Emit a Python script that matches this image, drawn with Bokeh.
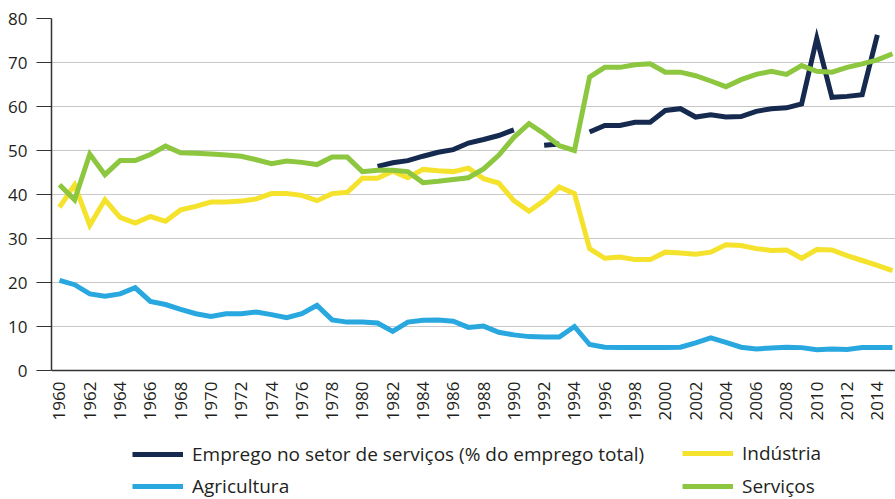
import math
from bokeh.plotting import figure
from bokeh.models import (Range1d, FixedTicker, Legend, LegendItem, ColumnDataSource,
                          Span)
from bokeh.core.properties import value
from bokeh.embed import file_html
from bokeh.resources import INLINE

nan = float("nan")

years = list(range(1960, 2016))

emprego = [nan] * 21 + [
    46.4, 47.2, 47.7, 48.7, 49.6, 50.2, 51.7, 52.5, 53.4, 54.7,   # 1981-1990
    nan, 51.2, 51.5, nan,                                          # 1991-1994
    54.2, 55.7, 55.7, 56.4, 56.4, 59.1, 59.5, 57.6, 58.1, 57.6,   # 1995-2004
    57.7, 58.9, 59.5, 59.7, 60.6, 75.5, 62.1, 62.3, 62.7, 76.3,   # 2005-2014
    nan,                                                           # 2015
]

industria = [
    37.1, 42.2, 33.0, 38.8, 34.8, 33.5, 35.0, 33.9, 36.5, 37.3,   # 1960-1969
    38.3, 38.3, 38.5, 39.0, 40.2, 40.2, 39.8, 38.6, 40.2, 40.5,   # 1970-1979
    43.7, 43.7, 45.3, 43.8, 45.7, 45.4, 45.2, 46.0, 43.6, 42.6,   # 1980-1989
    38.6, 36.2, 38.6, 41.7, 40.2, 27.7, 25.5, 25.8, 25.2, 25.2,   # 1990-1999
    26.9, 26.7, 26.4, 26.9, 28.6, 28.4, 27.7, 27.3, 27.4, 25.5,   # 2000-2009
    27.5, 27.4, 26.1, 25.0, 23.9, 22.7,                           # 2010-2015
]

agricultura = [
    20.5, 19.5, 17.4, 16.9, 17.4, 18.8, 15.7, 15.0, 13.9, 12.9,   # 1960-1969
    12.3, 12.9, 12.9, 13.3, 12.7, 12.0, 12.9, 14.8, 11.5, 11.0,   # 1970-1979
    11.0, 10.8, 8.9, 11.0, 11.4, 11.5, 11.2, 9.8, 10.1, 8.7,      # 1980-1989
    8.1, 7.7, 7.6, 7.6, 10.0, 5.9, 5.3, 5.2, 5.2, 5.2,            # 1990-1999
    5.2, 5.3, 6.3, 7.4, 6.4, 5.3, 4.9, 5.1, 5.3, 5.2,             # 2000-2009
    4.7, 4.9, 4.8, 5.2, 5.2, 5.2,                                 # 2010-2015
]

servicos = [
    42.2, 38.8, 49.2, 44.5, 47.7, 47.7, 49.1, 51.0, 49.5, 49.4,   # 1960-1969
    49.2, 49.0, 48.7, 47.9, 47.0, 47.6, 47.3, 46.8, 48.5, 48.5,   # 1970-1979
    45.2, 45.5, 45.5, 45.2, 42.7, 43.0, 43.4, 43.8, 45.8, 48.9,   # 1980-1989
    53.0, 56.1, 53.8, 51.1, 50.0, 66.7, 68.9, 68.9, 69.5, 69.7,   # 1990-1999
    67.8, 67.8, 67.0, 65.8, 64.5, 66.1, 67.3, 68.0, 67.3, 69.3,   # 2000-2009
    68.0, 67.8, 68.9, 69.7, 70.6, 72.0,                           # 2010-2015
]

x_ticks = list(range(1960, 2015, 2))
x_tick_labels = [str(y) for y in x_ticks]
y_ticks = [0, 10, 20, 30, 40, 50, 60, 70, 80]

labels = {
    "emprego": "Emprego no setor de serviços (% do emprego total)",
    "industria": "Indústria",
    "agricultura": "Agricultura",
    "servicos": "Serviços",
}
colors = {
    "emprego": "#152a4e",
    "industria": "#f5e22c",
    "agricultura": "#29a8e0",
    "servicos": "#8dc63f",
}

FONT = "Open Sans"
TXT = "#231f20"
AXIS = "#333333"

# y = 0 sits 129 px above the bottom of the canvas; the frame runs to the bottom
# so the legends can sit inside it.
p = figure(width=895, height=499, output_backend="svg", toolbar_location=None,
           x_range=Range1d(1959.472, 2015.198), y_range=Range1d(-29.318, 80),
           x_axis_location=None,
           min_border_left=51, min_border_right=0, min_border_top=18,
           min_border_bottom=0)
p.outline_line_color = None
p.background_fill_color = "white"
p.border_fill_color = "white"

src = ColumnDataSource(dict(year=years, emprego=emprego, industria=industria,
                            agricultura=agricultura, servicos=servicos))

renderers = {}
for key in ["emprego", "industria", "agricultura", "servicos"]:
    renderers[key] = p.line("year", key, source=src, line_color=colors[key],
                            line_width=5, line_join="miter")

# y axis
p.yaxis.ticker = FixedTicker(ticks=y_ticks)
p.yaxis.bounds = (0, 80)
p.yaxis.major_tick_out = 15
p.yaxis.major_tick_in = 0
p.yaxis.major_tick_line_color = AXIS
p.yaxis.minor_tick_line_color = None
p.yaxis.major_label_standoff = 9
p.yaxis.axis_line_color = AXIS
p.yaxis.axis_line_width = 1.5
p.yaxis.major_label_text_font = FONT
p.yaxis.major_label_text_font_size = "17px"
p.yaxis.major_label_text_color = TXT

p.xgrid.grid_line_color = None
p.ygrid.ticker = FixedTicker(ticks=y_ticks)
p.ygrid.grid_line_color = "#c8c8c8"
p.ygrid.grid_line_width = 1.2

# x axis line at y = 0 and its rotated year labels
p.add_layout(Span(location=0, dimension="width", line_color=AXIS, line_width=1.5))
tick_src = ColumnDataSource(dict(x=x_ticks, y=[0] * len(x_ticks), t=x_tick_labels))
p.text(x="x", y="y", text="t", source=tick_src, angle=math.pi / 2,
       text_align="right", text_baseline="middle", y_offset=11,
       text_font=value(FONT), text_font_size="17px", text_color=TXT)


def make_legend(keys, loc, spacing):
    lg = Legend(items=[LegendItem(label=labels[k], renderers=[renderers[k]]) for k in keys],
                location=loc, orientation="vertical")
    lg.glyph_width = 51
    lg.glyph_height = 20
    lg.label_height = 20
    lg.spacing = spacing
    lg.padding = 0
    lg.margin = 0
    lg.label_standoff = 9
    lg.label_text_font = FONT
    lg.label_text_font_size = "19px"
    lg.label_text_color = TXT
    lg.background_fill_alpha = 0
    lg.border_line_alpha = 0
    return lg


p.add_layout(make_legend(["emprego", "agricultura"], (81, 0), 6), "center")
p.add_layout(make_legend(["industria", "servicos"], (631, 0), 7), "center")

open("out.html", "w").write(file_html(p, INLINE))
